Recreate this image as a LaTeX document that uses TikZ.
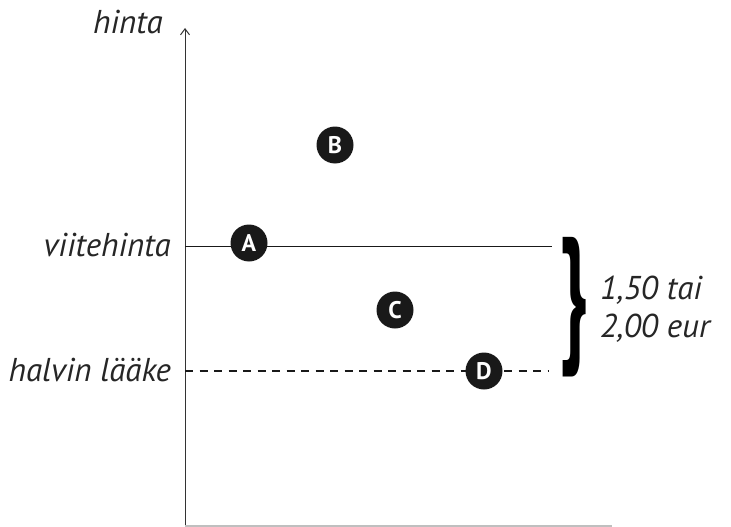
\documentclass[tikz,border=0pt]{standalone}
\usepackage{fontspec}
\setmainfont{PT Sans}
\usetikzlibrary{arrows.meta}
\begin{document}
\begin{tikzpicture}[x=1pt,y=-1pt,
 lbl/.style={font=\fontsize{33}{35}\selectfont\itshape, text=black!85, inner sep=0pt},
 dot/.style={circle, fill=black!90, minimum size=37pt, inner sep=0pt, text=white, font=\fontsize{24}{24}\selectfont\bfseries},
 axisline/.style={draw=black!80, line width=1pt}]
\useasboundingbox (0,0) rectangle (731,527);
\coordinate (O) at (185,526);
\coordinate (T) at (185,28);
\coordinate (R) at (612,526);
\draw[axisline, -{Straight Barb[length=6pt,width=9pt]}] (O) -- (T);
\draw[draw=black!25, line width=1.2pt] (O) -- (R);
\coordinate (v0) at (185,246); \coordinate (v1) at (552,246);
\draw[line width=1pt, black!90] (v0) -- (v1);
\coordinate (h0) at (185,371); \coordinate (h1) at (548,371);
\draw[line width=1.6pt, black!90, dash pattern=on 8pt off 6.5pt] (h0) -- (h1);
\node[dot] (A) at (249,243) {A};
\node[dot] (B) at (335,145) {B};
\node[dot] (C) at (395,310) {C};
\node[dot] (D) at (484,371) {D};
\node[lbl, anchor=east] (hinta) at (163,22) {hinta};
\node[lbl, anchor=east] (viite) at (171,245) {viitehinta};
\node[lbl, anchor=east] (halvin) at (171,370) {halvin lääke};
\node[inner sep=0pt, xscale=0.5, font=\fontsize{150}{150}\selectfont\bfseries] (brace) at (574,307) {\}};
\node[lbl, anchor=west, align=left, font=\fontsize{33}{38}\selectfont\itshape] (eur) at (600,309) {1,50 tai\\2,00 eur};
\end{tikzpicture}
\end{document}
